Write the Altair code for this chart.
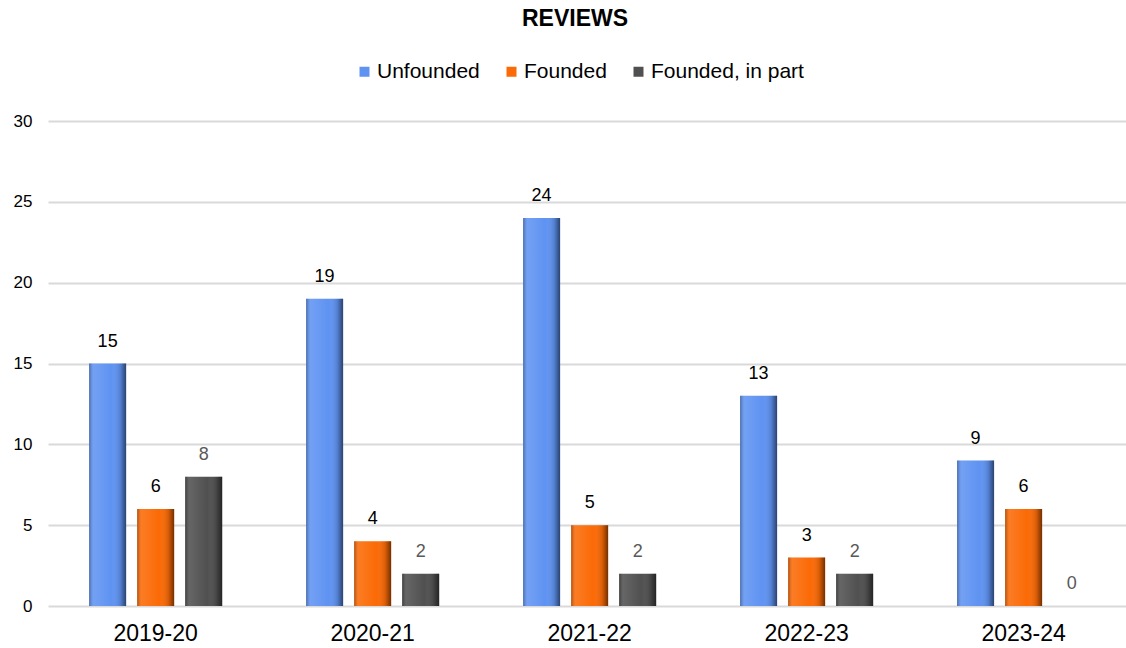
import altair as alt
import pandas as pd

years = ["2019-20", "2020-21", "2021-22", "2022-23", "2023-24"]
series = ["Unfounded", "Founded", "Founded, in part"]
unfounded = [15, 19, 24, 13, 9]
founded = [6, 4, 5, 3, 6]
founded_in_part = [8, 2, 2, 2, 0]
colors = ["#5f93f2", "#fb6a06", "#505050"]

rows = []
for name, vals in zip(series, [unfounded, founded, founded_in_part]):
    for y, v in zip(years, vals):
        rows.append({"year": y, "series": name, "value": v})
df = pd.DataFrame(rows)

x_enc = alt.X("year:N", sort=years,
              scale=alt.Scale(paddingInner=0.336, paddingOuter=0.152, align=0.54),
              axis=alt.Axis(title=None, labelAngle=0, labelFontSize=23,
                            labelColor="#000000", labelPadding=16,
                            domain=False, ticks=False))
xo_enc = alt.XOffset("series:N", sort=series,
                     scale=alt.Scale(domain=series, paddingInner=0.23, paddingOuter=0.115))
y_enc = alt.Y("value:Q",
              scale=alt.Scale(domain=[0, 30]),
              axis=alt.Axis(title=None, values=[0, 5, 10, 15, 20, 25, 30],
                            labelFontSize=17, labelColor="#000000", labelPadding=16,
                            domain=False, ticks=False,
                            gridColor="#d9d9d9", gridWidth=2))

base = alt.Chart(df)

bars = base.mark_bar().encode(
    x=x_enc, xOffset=xo_enc, y=y_enc,
    color=alt.Color("series:N", sort=series,
                    scale=alt.Scale(domain=series, range=colors),
                    legend=alt.Legend(title=None, orient="none", direction="horizontal",
                                      legendX=306, legendY=-60,
                                      symbolType="square", symbolSize=100,
                                      symbolStrokeWidth=0,
                                      labelFontSize=21, labelColor="#000000",
                                      labelOffset=2, columnPadding=21,
                                      labelLimit=300)),
)

# bevel shading laid over each bar: darker edges, lighter centre
shade = alt.LinearGradient(
    gradient="linear", x1=0, x2=1, y1=0, y2=0,
    stops=[
        alt.GradientStop(offset=0, color="rgba(0,0,0,0.30)"),
        alt.GradientStop(offset=0.12, color="rgba(255,255,255,0.12)"),
        alt.GradientStop(offset=0.6, color="rgba(255,255,255,0.0)"),
        alt.GradientStop(offset=0.85, color="rgba(0,0,0,0.15)"),
        alt.GradientStop(offset=1, color="rgba(0,0,0,0.55)"),
    ],
)
bevel = base.mark_bar(fill=shade).encode(x=x_enc, xOffset=xo_enc, y=y_enc)

labels = base.mark_text(fontSize=18, dy=-22, font="Liberation Sans").encode(
    x=x_enc, xOffset=xo_enc, y=y_enc,
    text=alt.Text("value:Q"),
    color=alt.condition(alt.datum.series == "Founded, in part",
                        alt.value("#595959"), alt.value("#000000")),
)

chart = alt.layer(bars, bevel, labels).properties(
    width=1078, height=485,
    title=alt.TitleParams("REVIEWS", fontSize=23, fontWeight="bold", color="#000000",
                          font="Liberation Sans", anchor="middle", offset=30, dx=-12),
    autosize=alt.AutoSizeParams(type="none"),
    padding={"left": 48, "top": 121, "right": 0, "bottom": 42},
).configure(font="Liberation Sans").configure_view(stroke=None)

chart.save("out.html", embed_options={"renderer": "svg", "actions": False})
